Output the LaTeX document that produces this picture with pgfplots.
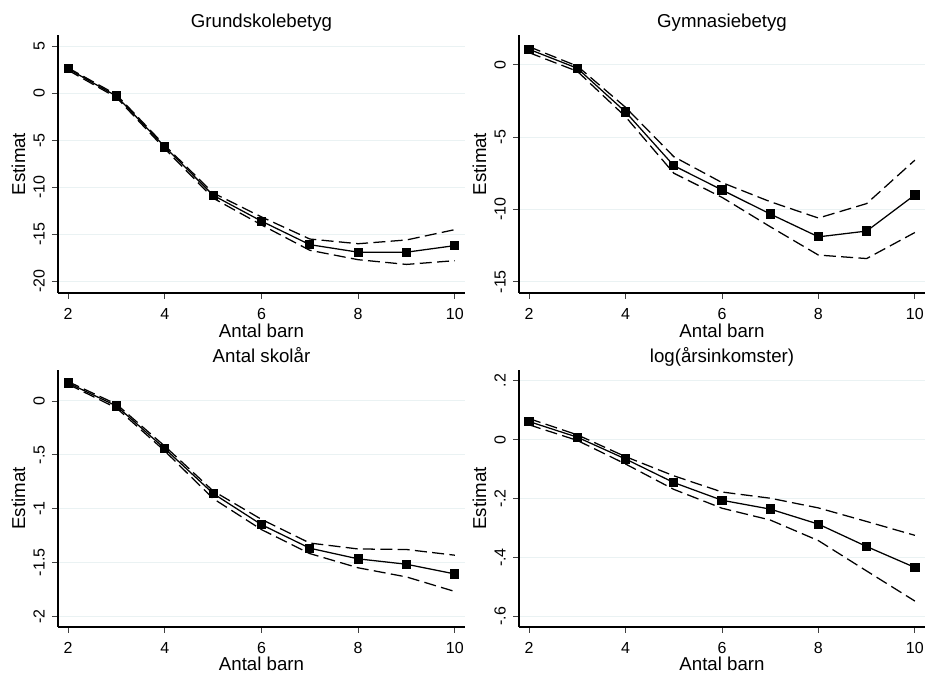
\documentclass[border=0pt]{standalone}
\usepackage{fontspec}
\setmainfont{Liberation Sans}
\usepackage{pgfplots}
\pgfplotsset{compat=1.18}

\definecolor{gridc}{RGB}{234,242,243}

\pgfplotsset{
  stata/.style={
    scale only axis,
    anchor=south west,
    axis lines=left,
    axis line style={-, line width=0.8pt, black},
    tick align=outside,
    major tick length=4.5pt,
    tick style={line width=0.6pt, black!75},
    xmin=1.79, xmax=10.21,
    xtick={2,4,6,8,10},
    xticklabels={2,4,6,8,10},
    ymajorgrids,
    grid style={line width=0.75pt, gridc},
    tick label style={font=\fontsize{12}{14}\selectfont},
    every axis title shift=0pt,
    title style={font=\fontsize{14}{16}\selectfont,
      at={(axis description cs:0.5,1.029)}, anchor=base},
    xlabel={Antal barn},
    ylabel={Estimat},
    xlabel style={font=\fontsize{14}{16}\selectfont,
      at={(axis description cs:0.5,-0.171)}, anchor=base},
    ylabel style={font=\fontsize{14}{16}\selectfont,
      at={(axis description cs:-0.081,0.5)}, anchor=base},
    yticklabel style={rotate=90, anchor=south, inner sep=0pt},
    xticklabel style={anchor=north, inner sep=0pt},
    yticklabel shift=5.25pt,
    xticklabel shift=6.75pt,
  },
  ci/.style={black, line width=0.95pt, dash pattern=on 9pt off 4pt, mark=none},
  est/.style={black, line width=0.95pt, mark=square*, mark size=3pt, mark options={solid}},
}

\begin{document}
\begin{tikzpicture}
\useasboundingbox (0,0) rectangle (694.5pt,506.25pt);

% Grundskolebetyg
\begin{axis}[stata,
  at={(43.5pt,286.5pt)}, width=305.25pt, height=193.5pt,
  title={Grundskolebetyg},
  ymin=-21.24, ymax=6.2,
  ytick={-20,-15,-10,-5,0,5},
  yticklabels={-20,-15,-10,-5,0,5}]
\addplot[ci] coordinates {(2,2.7) (3,-0.15) (4,-5.55) (5,-10.6) (6,-13.15) (7,-15.5) (8,-16.0) (9,-15.6) (10,-14.5)};
\addplot[ci] coordinates {(2,2.45) (3,-0.45) (4,-5.9) (5,-11.15) (6,-14.0) (7,-16.7) (8,-17.7) (9,-18.2) (10,-17.8)};
\addplot[est] coordinates {(2,2.6) (3,-0.3) (4,-5.7) (5,-10.85) (6,-13.6) (7,-16.1) (8,-16.9) (9,-16.9) (10,-16.2)};
\end{axis}

% Gymnasiebetyg
\begin{axis}[stata,
  at={(389.25pt,286.5pt)}, width=304.5pt, height=193.5pt,
  title={Gymnasiebetyg},
  ymin=-15.78, ymax=2.05,
  ytick={-15,-10,-5,0},
  yticklabels={-15,-10,-5,0}]
\addplot[ci] coordinates {(2,1.24) (3,-0.1) (4,-2.95) (5,-6.36) (6,-8.15) (7,-9.47) (8,-10.6) (9,-9.6) (10,-6.6)};
\addplot[ci] coordinates {(2,0.83) (3,-0.46) (4,-3.6) (5,-7.5) (6,-9.17) (7,-11.2) (8,-13.16) (9,-13.4) (10,-11.6)};
\addplot[est] coordinates {(2,1.06) (3,-0.25) (4,-3.27) (5,-6.98) (6,-8.66) (7,-10.32) (8,-11.9) (9,-11.5) (10,-9.0)};
\end{axis}

% Antal skolår
\begin{axis}[stata,
  at={(43.5pt,36pt)}, width=305.25pt, height=192.75pt,
  title={Antal skolår},
  ymin=-2.1, ymax=0.288,
  ytick={-2,-1.5,-1,-0.5,0},
  yticklabels={-2,-1.5,-1,-.5,0}]
\addplot[ci] coordinates {(2,0.18) (3,-0.03) (4,-0.42) (5,-0.836) (6,-1.10) (7,-1.32) (8,-1.375) (9,-1.38) (10,-1.433)};
\addplot[ci] coordinates {(2,0.155) (3,-0.065) (4,-0.465) (5,-0.907) (6,-1.195) (7,-1.418) (8,-1.55) (9,-1.635) (10,-1.77)};
\addplot[est] coordinates {(2,0.167) (3,-0.046) (4,-0.443) (5,-0.86) (6,-1.149) (7,-1.368) (8,-1.467) (9,-1.517) (10,-1.607)};
\end{axis}

% log(årsinkomster)
\begin{axis}[stata,
  at={(389.25pt,36pt)}, width=304.5pt, height=192.75pt,
  title={log(årsinkomster)},
  ymin=-0.636, ymax=0.236,
  ytick={-0.6,-0.4,-0.2,0,0.2},
  yticklabels={-.6,-.4,-.2,0,.2}]
\addplot[ci] coordinates {(2,0.071) (3,0.016) (4,-0.058) (5,-0.123) (6,-0.178) (7,-0.199) (8,-0.232) (9,-0.278) (10,-0.325)};
\addplot[ci] coordinates {(2,0.05) (3,-0.003) (4,-0.083) (5,-0.169) (6,-0.233) (7,-0.273) (8,-0.343) (9,-0.446) (10,-0.548)};
\addplot[est] coordinates {(2,0.061) (3,0.008) (4,-0.066) (5,-0.146) (6,-0.206) (7,-0.236) (8,-0.287) (9,-0.363) (10,-0.434)};
\end{axis}
\end{tikzpicture}
\end{document}
